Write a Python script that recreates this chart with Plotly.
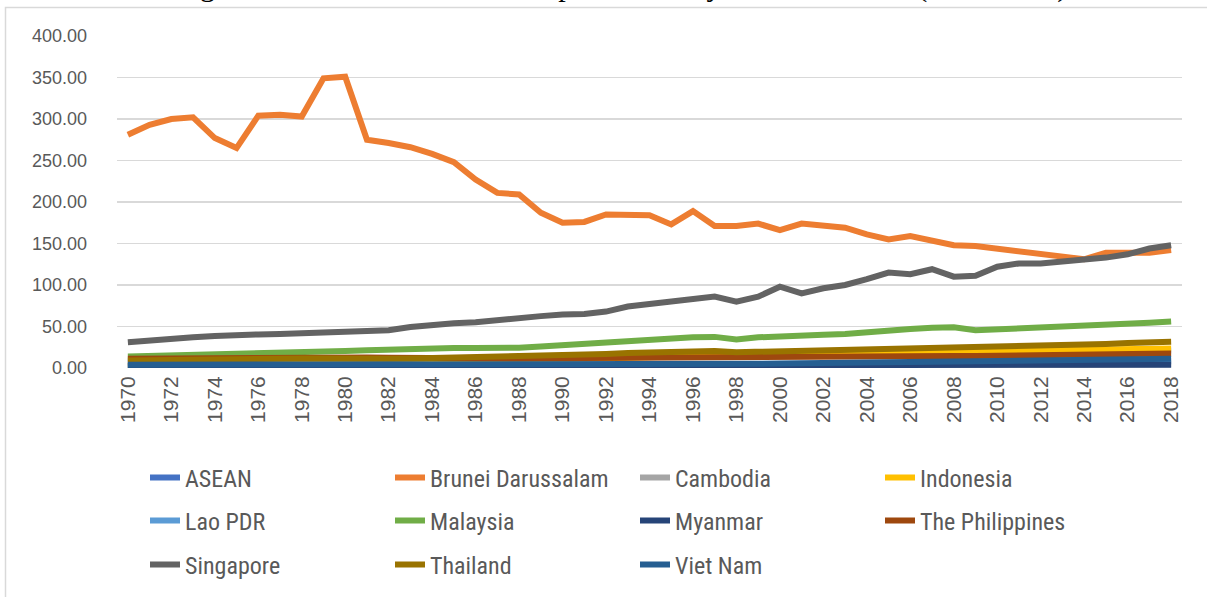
import plotly.graph_objects as go

years = list(range(1970, 2019))
tick_years = [str(y) for y in range(1970, 2019, 2)]

asean = [6.5, 6.8, 7.0, 7.3, 7.5, 7.7, 8.0, 8.3, 8.6, 8.9, 9.0, 9.2, 9.4, 9.6, 9.9, 10.2, 10.5, 10.9, 11.3, 11.7,
         12.0, 12.5, 13.0, 13.6, 14.2, 14.8, 15.5, 15.6, 15.0, 15.4, 16.0, 16.3, 16.7, 17.0, 17.4, 17.6, 17.8, 18.1, 18.3, 18.0,
         18.5, 18.8, 19.1, 19.4, 19.7, 20.0, 20.3, 20.7, 21.0]
brunei = [281, 293, 300, 302, 277, 265, 304, 305, 303, 349, 351, 275, 271, 266, 258, 248, 227, 211, 209, 187,
          175, 176, 185, 184, 184, 173, 189, 171, 171, 174, 166, 174, 172, 169, 161, 155, 159, 153, 148, 147,
          144, 141, 137, 134, 131, 139, 139, 139, 142]
cambodia = [1.5, 1.5, 1.4, 1.3, 1.2, 1.0, 0.8, 0.8, 0.8, 0.8, 0.8, 0.9, 0.9, 1.0, 1.0, 1.0, 1.1, 1.1, 1.1, 1.2,
            1.2, 1.3, 1.3, 1.4, 1.4, 1.5, 1.5, 1.6, 1.6, 1.7, 1.8, 1.9, 2.0, 2.1, 2.2, 2.3, 2.4, 2.5, 2.6, 2.7,
            2.9, 3.0, 3.2, 3.4, 3.6, 3.8, 4.0, 4.2, 4.4]
indonesia = [3.0, 3.3, 3.6, 3.9, 4.2, 4.5, 4.9, 5.3, 5.7, 6.0, 6.3, 6.7, 7.0, 7.4, 7.8, 8.2, 8.6, 9.0, 9.4, 9.8,
             10.3, 11.0, 11.8, 12.6, 13.4, 14.2, 15.2, 16.0, 15.2, 16.2, 17.0, 17.6, 18.0, 18.5, 19.0, 19.2, 19.4, 19.8, 20.0, 19.6,
             20.5, 21.0, 21.5, 21.8, 22.0, 22.3, 22.7, 23.2, 23.5]
lao = [2.0, 2.0, 2.1, 2.1, 2.2, 2.2, 2.3, 2.3, 2.4, 2.4, 2.5, 2.5, 2.6, 2.6, 2.7, 2.7, 2.8, 2.9, 3.0, 3.0,
       3.1, 3.2, 3.3, 3.4, 3.5, 3.6, 3.7, 3.8, 3.9, 4.0, 4.1, 4.2, 4.3, 4.4, 4.5, 4.6, 4.7, 4.8, 4.9, 5.0,
       5.2, 5.4, 5.6, 5.8, 6.1, 6.5, 7.0, 7.5, 8.0]
malaysia = [14, 14.5, 15.5, 16.5, 17, 17.5, 18, 19, 19.5, 20, 20.5, 21.5, 22.5, 23, 23.5, 24, 24, 24, 24.5, 26,
            27.5, 29, 31, 32, 34, 36.5, 37, 37.5, 34.5, 37, 38.5, 39, 40, 41, 43.5, 45, 47, 48.5, 49, 45.5,
            46.5, 48, 48.5, 49, 50, 51.5, 53, 54.5, 56]
myanmar = [2.5, 2.5, 2.5, 2.5, 2.5, 2.5, 2.5, 2.6, 2.6, 2.6, 2.6, 2.6, 2.6, 2.6, 2.6, 2.6, 2.5, 2.4, 2.3, 2.3,
           2.3, 2.3, 2.3, 2.4, 2.4, 2.5, 2.5, 2.5, 2.5, 2.6, 2.6, 2.7, 2.7, 2.8, 2.8, 2.9, 2.9, 3.0, 3.0, 3.0,
           3.1, 3.1, 3.2, 3.2, 3.3, 3.5, 3.7, 3.9, 4.0]
philippines = [11.0, 11.3, 11.6, 12.0, 12.0, 12.2, 12.5, 12.8, 13.0, 13.0, 13.0, 12.8, 12.5, 12.2, 11.5, 11.0, 11.0, 11.2, 11.5, 11.8,
               12.0, 12.0, 12.2, 12.5, 12.8, 13.2, 13.8, 14.0, 13.5, 13.5, 13.8, 13.8, 14.0, 14.0, 14.2, 14.2, 14.3, 14.5, 14.6, 14.5,
               15.0, 15.2, 15.5, 15.8, 16.0, 16.3, 16.7, 17.0, 17.5]
singapore = [31, 33, 36.5, 37, 38.5, 40, 40.5, 41, 42, 43.5, 44.5, 44.5, 45.5, 49.5, 52, 54, 55, 58, 60, 62.5,
             64.5, 65, 68, 74, 77, 80, 83, 86, 80, 86, 98, 90, 96, 100, 107, 115, 113, 119, 110, 111,
             122, 126, 126, 128, 130, 133, 137, 144, 148]
thailand = [9.0, 9.5, 10.0, 10.5, 10.5, 10.5, 11.0, 11.0, 11.5, 11.5, 11.0, 11.0, 11.0, 11.5, 12.0, 12.0, 12.5, 13.5, 14.0, 15.0,
            16.0, 16.5, 17.0, 18.0, 19.0, 20.0, 21.0, 20.5, 19.0, 19.5, 20.0, 20.5, 21.5, 22.5, 23.5, 24.0, 24.5, 25.0, 25.0, 24.5,
            25.5, 26.0, 27.0, 27.5, 28.0, 29.0, 30.0, 31.0, 31.5]
vietnam = [4.0, 4.0, 4.2, 4.2, 4.0, 3.8, 3.8, 3.7, 3.6, 3.5, 3.5, 3.5, 3.5, 3.5, 3.5, 3.5, 3.5, 3.5, 3.5, 3.5,
           3.5, 3.6, 3.7, 3.8, 4.0, 4.2, 4.5, 4.7, 4.9, 5.1, 5.5, 5.8, 6.1, 6.4, 6.7, 7.0, 7.3, 7.6, 7.8, 8.0,
           8.5, 8.6, 8.6, 8.5, 8.5, 9.2, 9.8, 10.4, 11.0]

series = [
    ("ASEAN", asean, "#4472C4", "legend"),
    ("Brunei Darussalam", brunei, "#ED7D31", "legend"),
    ("Cambodia", cambodia, "#A5A5A5", "legend"),
    ("Indonesia", indonesia, "#FFC000", "legend"),
    ("Lao PDR", lao, "#5B9BD5", "legend2"),
    ("Malaysia", malaysia, "#70AD47", "legend2"),
    ("Myanmar", myanmar, "#264478", "legend2"),
    ("The Philippines", philippines, "#9E480E", "legend2"),
    ("Singapore", singapore, "#636363", "legend3"),
    ("Thailand", thailand, "#997300", "legend3"),
    ("Viet Nam", vietnam, "#255E91", "legend3"),
]

fig = go.Figure()
for name, vals, color, lg in series:
    fig.add_trace(go.Scatter(
        x=[str(y) for y in years], y=vals, name=name, mode="lines",
        line=dict(color=color, width=6, shape="linear"),
        legend=lg,
    ))

W, H = 1207, 597
legend_font = dict(family="Liberation Sans Narrow, Arial Narrow, Roboto Condensed, Liberation Sans, sans-serif",
                   size=24, color="#595959")
leg_common = dict(orientation="h", xanchor="left", yanchor="middle", xref="container", yref="container",
                  x=145 / W, entrywidth=200, entrywidthmode="pixels", font=legend_font,
                  bgcolor="rgba(0,0,0,0)", itemclick=False, traceorder="normal")

fig.update_layout(
    width=W, height=H,
    margin=dict(l=117, r=25, t=36, b=229, autoexpand=False),
    paper_bgcolor="white", plot_bgcolor="white",
    showlegend=True,
    legend=dict(**leg_common, y=1 - 478 / H),
    legend2=dict(**leg_common, y=1 - 521 / H),
    legend3=dict(**leg_common, y=1 - 565 / H),
    xaxis=dict(
        type="category", range=[-0.5, 48.5],
        tickmode="array", tickvals=tick_years, ticktext=tick_years,
        tickangle=-90, showgrid=False, showline=False, zeroline=False, ticks="",
        ticklabelstandoff=3,
        tickfont=dict(family="Liberation Sans, Arial, sans-serif", size=21, color="#595959"),
    ),
    yaxis=dict(
        range=[0, 400], tickvals=[0, 50, 100, 150, 200, 250, 300, 350, 400],
        tickformat=".2f", showgrid=True, gridcolor="#D9D9D9", gridwidth=1.5,
        zeroline=False, showline=False, ticks="", ticklabelstandoff=29,
        tickfont=dict(family="Liberation Sans, Arial, sans-serif", size=18, color="#595959"),
    ),
    shapes=[dict(type="rect", xref="paper", yref="paper",
                 x0=(5.5 - 117) / 1065, x1=(1215 - 117) / 1065,
                 y0=(368 - 620) / 332, y1=(368 - 7.5) / 332,
                 line=dict(color="#D9D9D9", width=1.5), fillcolor="rgba(0,0,0,0)", layer="below")],
    annotations=[dict(text="Figure 3.10 Total Final Consumption Data by Member States (1970-2018)",
                      xref="paper", yref="paper", x=(1069 - 117) / 1065, y=(368 - 5) / 332,
                      xanchor="right", yanchor="bottom", showarrow=False,
                      font=dict(family="Liberation Serif, Times New Roman, serif", size=30, color="black"))],
)

fig.write_html("out.html",
               config={"displayModeBar": False, "staticPlot": True},
               post_script="document.body.style.margin='0';document.body.style.overflow='hidden';")
